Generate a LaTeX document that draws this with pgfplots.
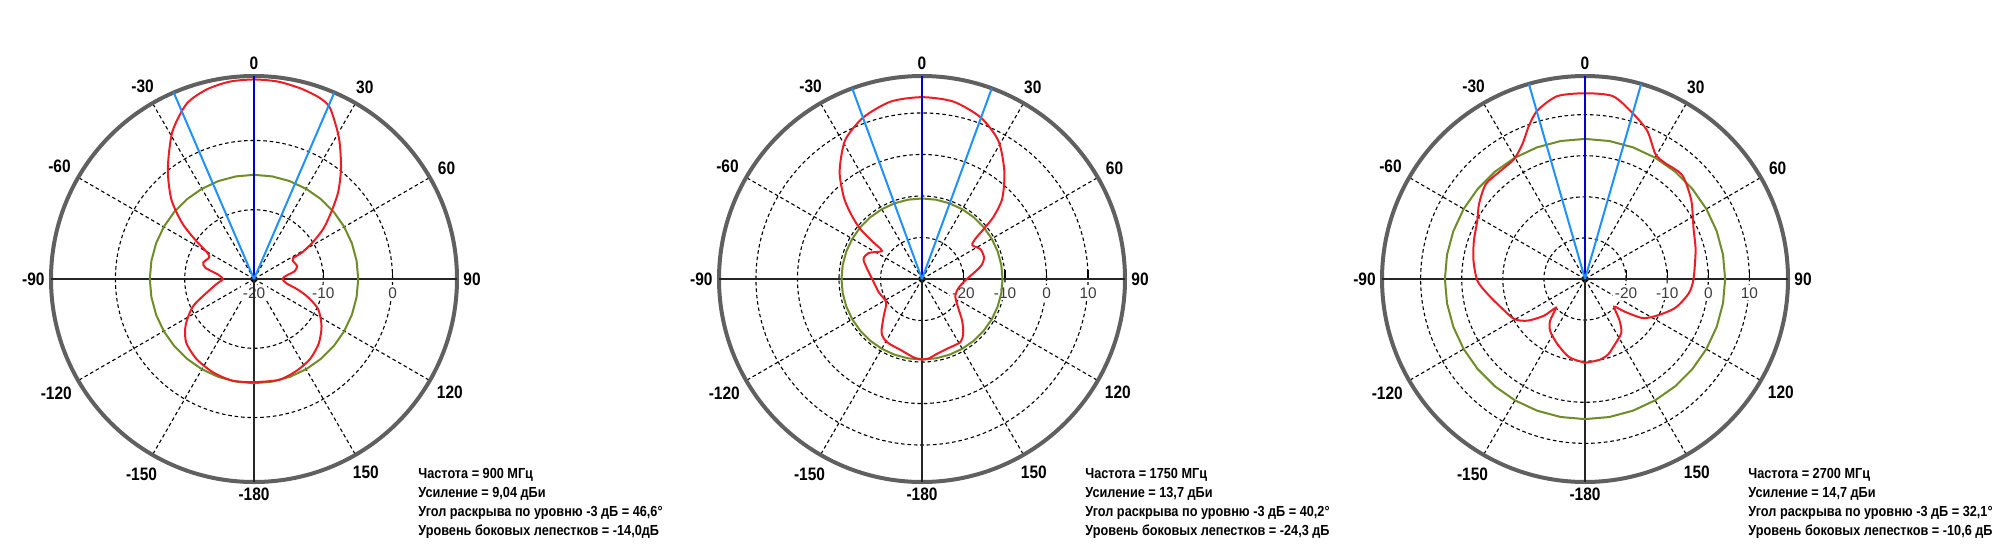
\documentclass[border=0pt]{standalone}
\usepackage{fontspec}
\setmainfont{Liberation Sans}
\newfontfamily\angfont{Liberation Sans}[FakeStretch=0.86]
\newfontfamily\txtfont{Liberation Sans}[FakeStretch=0.87]
\usepackage{pgfplots}
\usepackage{pgfplotstable}
\pgfplotsset{compat=1.18}
\usepgfplotslibrary{polar}

\definecolor{rimgray}{RGB}{96,96,96}
\definecolor{patred}{RGB}{236,28,36}
\definecolor{slgreen}{RGB}{110,140,40}
\definecolor{mainblue}{RGB}{0,0,205}
\definecolor{beamblue}{RGB}{30,144,255}
\definecolor{labgray}{RGB}{60,60,60}

% side-lobe level circles (dB) for the three frequencies
\pgfplotstableread{
a l1 l2 l3
-180 -4.96 -10.6 4.1
-170 -4.96 -10.6 4.1
-160 -4.96 -10.6 4.1
-150 -4.96 -10.6 4.1
-140 -4.96 -10.6 4.1
-130 -4.96 -10.6 4.1
-120 -4.96 -10.6 4.1
-110 -4.96 -10.6 4.1
-100 -4.96 -10.6 4.1
-90 -4.96 -10.6 4.1
-80 -4.96 -10.6 4.1
-70 -4.96 -10.6 4.1
-60 -4.96 -10.6 4.1
-50 -4.96 -10.6 4.1
-40 -4.96 -10.6 4.1
-30 -4.96 -10.6 4.1
-20 -4.96 -10.6 4.1
-10 -4.96 -10.6 4.1
0 -4.96 -10.6 4.1
10 -4.96 -10.6 4.1
20 -4.96 -10.6 4.1
30 -4.96 -10.6 4.1
40 -4.96 -10.6 4.1
50 -4.96 -10.6 4.1
60 -4.96 -10.6 4.1
70 -4.96 -10.6 4.1
80 -4.96 -10.6 4.1
90 -4.96 -10.6 4.1
100 -4.96 -10.6 4.1
110 -4.96 -10.6 4.1
120 -4.96 -10.6 4.1
130 -4.96 -10.6 4.1
140 -4.96 -10.6 4.1
150 -4.96 -10.6 4.1
160 -4.96 -10.6 4.1
170 -4.96 -10.6 4.1
180 -4.96 -10.6 4.1
}\sll

% 900 MHz, angle (deg) and level (dB)
\pgfplotstableread{
t d
-180 -5.1
-168 -5.0
-156 -5.3
-144 -5.8
-133 -6.6
-124 -8.1
-114 -10.4
-103 -13.6
-96 -14.8
-90 -15.5
-83 -14.8
-77 -12.8
-72 -12.3
-65 -12.8
-61 -12.4
-56 -9.6
-52 -6.8
-46 -3.4
-38 0.2
-29 4.3
-21 7.1
-14 8.2
-7 8.7
0 8.8
7 8.7
14 8.3
20 7.8
24 7.0
31 3.8
38 0.4
44 -2.5
49 -5.2
54 -7.6
58 -10.0
61 -12.0
62 -13.6
66 -13.8
73 -13.5
79 -14.0
84 -15.3
90 -15.9
98 -15.2
103 -13.7
108 -12.0
115 -9.8
125 -8.1
135 -6.8
145 -5.9
155 -5.4
166 -5.0
180 -5.1
}\patA

% 1750 MHz
\pgfplotstableread{
t d
-180 -10.6
-174 -11.0
-164 -12.1
-151 -12.6
-143 -13.8
-134 -17.2
-123 -19.7
-107 -19.1
-90 -18.0
-78 -16.3
-71 -15.1
-64 -15.7
-55 -18.2
-53 -15.4
-51 -10.9
-48 -7.3
-44 -3.0
-37.5 2.6
-29 8.2
-20 11.4
-10 13.4
0 13.8
10 13.4
20 11.4
29 8.0
37.5 2.6
45 -2.7
49 -7.2
51 -10.9
53 -13.9
56 -15.4
63 -14.2
71 -14.2
77 -15.3
82 -17.0
90 -19.2
103 -20.9
117 -21.0
128 -19.0
136 -16.1
143 -13.5
149 -12.2
158 -12.2
169 -11.6
175 -10.8
180 -10.6
}\patB

% 2700 MHz
\pgfplotstableread{
t d
-180 -9.6
-168.5 -10.6
-157 -12.8
-146 -14.8
-140 -16.8
-134.7 -20.0
-131.8 -16.6
-125.9 -12.7
-119.4 -10.2
-108.6 -8.4
-98.7 -6.0
-90.9 -3.8
-80.7 -2.5
-71 -1.4
-61.6 -0.2
-54.7 1.6
-46.3 3.4
-37.9 3.4
-30.6 3.9
-24.9 6.2
-20.1 9.7
-15.8 12.6
-8.7 15.0
0 15.2
8.7 15.0
16 12.0
22.8 9.1
29.4 4.9
34.3 4.3
43.1 4.6
53.4 2.2
65.2 -0.9
75.5 -2.2
90 -3.6
97.8 -4.5
107.6 -6.9
116.5 -10.2
124 -13.0
129.5 -17.5
133.5 -20.2
140 -17.0
146 -14.2
156.5 -12.3
163 -10.8
170 -10.0
180 -9.6
}\patC

\pgfplotsset{
  antpat/.style={
    scale only axis, width=203pt, height=203pt, anchor=center,
    xtick={0,30,...,330},
    xticklabels={90,60,30,0,-30,-60,-90,-120,-150,-180,150,120},
    xticklabel style={font=\angfont\bfseries\fontsize{9}{9}\selectfont, inner sep=3pt},
    xtick style={draw=none},
    grid=major,
    major grid style={black, line width=0.55pt, dash pattern=on 1.8pt off 1.4pt},
    extra x ticks={0,90,180,270},
    extra x tick labels={},
    extra x tick style={grid=major, major grid style={black!85, solid, line width=0.75pt}},
    x axis line style={rimgray, line width=2pt},
    y axis line style={black, line width=0.7pt},
    yticklabel style={font=\fontsize{7.7}{7.7}\selectfont, text=labgray, anchor=north, fill=white, inner sep=1pt, yshift=-3pt},
    ytick style={black, line width=0.6pt},
    x filter/.expression={90-x},
  },
  pattern line/.style={patred, line width=1pt, smooth, tension=0.45},
}
\tikzset{info/.style={anchor=west, inner sep=0pt, font=\txtfont\bfseries\fontsize{7.3}{7.3}\selectfont}}

\begin{document}
\begin{tikzpicture}
\useasboundingbox (0,0) rectangle (1000pt,279.5pt);

\begin{polaraxis}[antpat, at={(127pt,140pt)}, ymin=0, ymax=29.3,
    ytick={0,10,20}, yticklabels={-20,-10,0}, y filter/.expression={y+20}]
  \addplot[slgreen, line width=1pt] table[x=a, y=l1] {\sll};
  \addplot[pattern line] table[x=t, y=d] {\patA};
  \addplot[mainblue, line width=1pt] coordinates {(0,-20) (0,9.3)};
  \addplot[beamblue, line width=1pt] coordinates {(-23.3,-20) (-23.3,9.3)};
  \addplot[beamblue, line width=1pt] coordinates {(23.3,-20) (23.3,9.3)};
\end{polaraxis}

\begin{polaraxis}[antpat, at={(461pt,140pt)}, ymin=0, ymax=48.9,
    ytick={10,20,30,40}, yticklabels={-20,-10,0,10}, y filter/.expression={y+30}]
  \addplot[slgreen, line width=1pt] table[x=a, y=l2] {\sll};
  \addplot[pattern line] table[x=t, y=d] {\patB};
  \addplot[mainblue, line width=1pt] coordinates {(0,-30) (0,18.9)};
  \addplot[beamblue, line width=1pt] coordinates {(-20.1,-30) (-20.1,18.9)};
  \addplot[beamblue, line width=1pt] coordinates {(20.1,-30) (20.1,18.9)};
\end{polaraxis}

\begin{polaraxis}[antpat, at={(792.5pt,140pt)}, ymin=0, ymax=49.4,
    ytick={10,20,30,40}, yticklabels={-20,-10,0,10}, y filter/.expression={y+30}]
  \addplot[slgreen, line width=1pt] table[x=a, y=l3] {\sll};
  \addplot[pattern line] table[x=t, y=d] {\patC};
  \addplot[mainblue, line width=1pt] coordinates {(0,-30) (0,19.4)};
  \addplot[beamblue, line width=1pt] coordinates {(-16.05,-30) (-16.05,19.4)};
  \addplot[beamblue, line width=1pt] coordinates {(16.05,-30) (16.05,19.4)};
\end{polaraxis}

\node[info] at (209pt,42pt) {Частота = 900 МГц};
\node[info] at (209pt,32.5pt) {Усиление = 9,04 дБи};
\node[info] at (209pt,23pt) {Угол раскрыва по уровню -3 дБ = 46,6°};
\node[info] at (209pt,13.5pt) {Уровень боковых лепестков = -14,0дБ};

\node[info] at (542.5pt,42pt) {Частота = 1750 МГц};
\node[info] at (542.5pt,32.5pt) {Усиление = 13,7 дБи};
\node[info] at (542.5pt,23pt) {Угол раскрыва по уровню -3 дБ = 40,2°};
\node[info] at (542.5pt,13.5pt) {Уровень боковых лепестков = -24,3 дБ};

\node[info] at (874pt,42pt) {Частота = 2700 МГц};
\node[info] at (874pt,32.5pt) {Усиление = 14,7 дБи};
\node[info] at (874pt,23pt) {Угол раскрыва по уровню -3 дБ = 32,1°};
\node[info] at (874pt,13.5pt) {Уровень боковых лепестков = -10,6 дБ};
\end{tikzpicture}
\end{document}
